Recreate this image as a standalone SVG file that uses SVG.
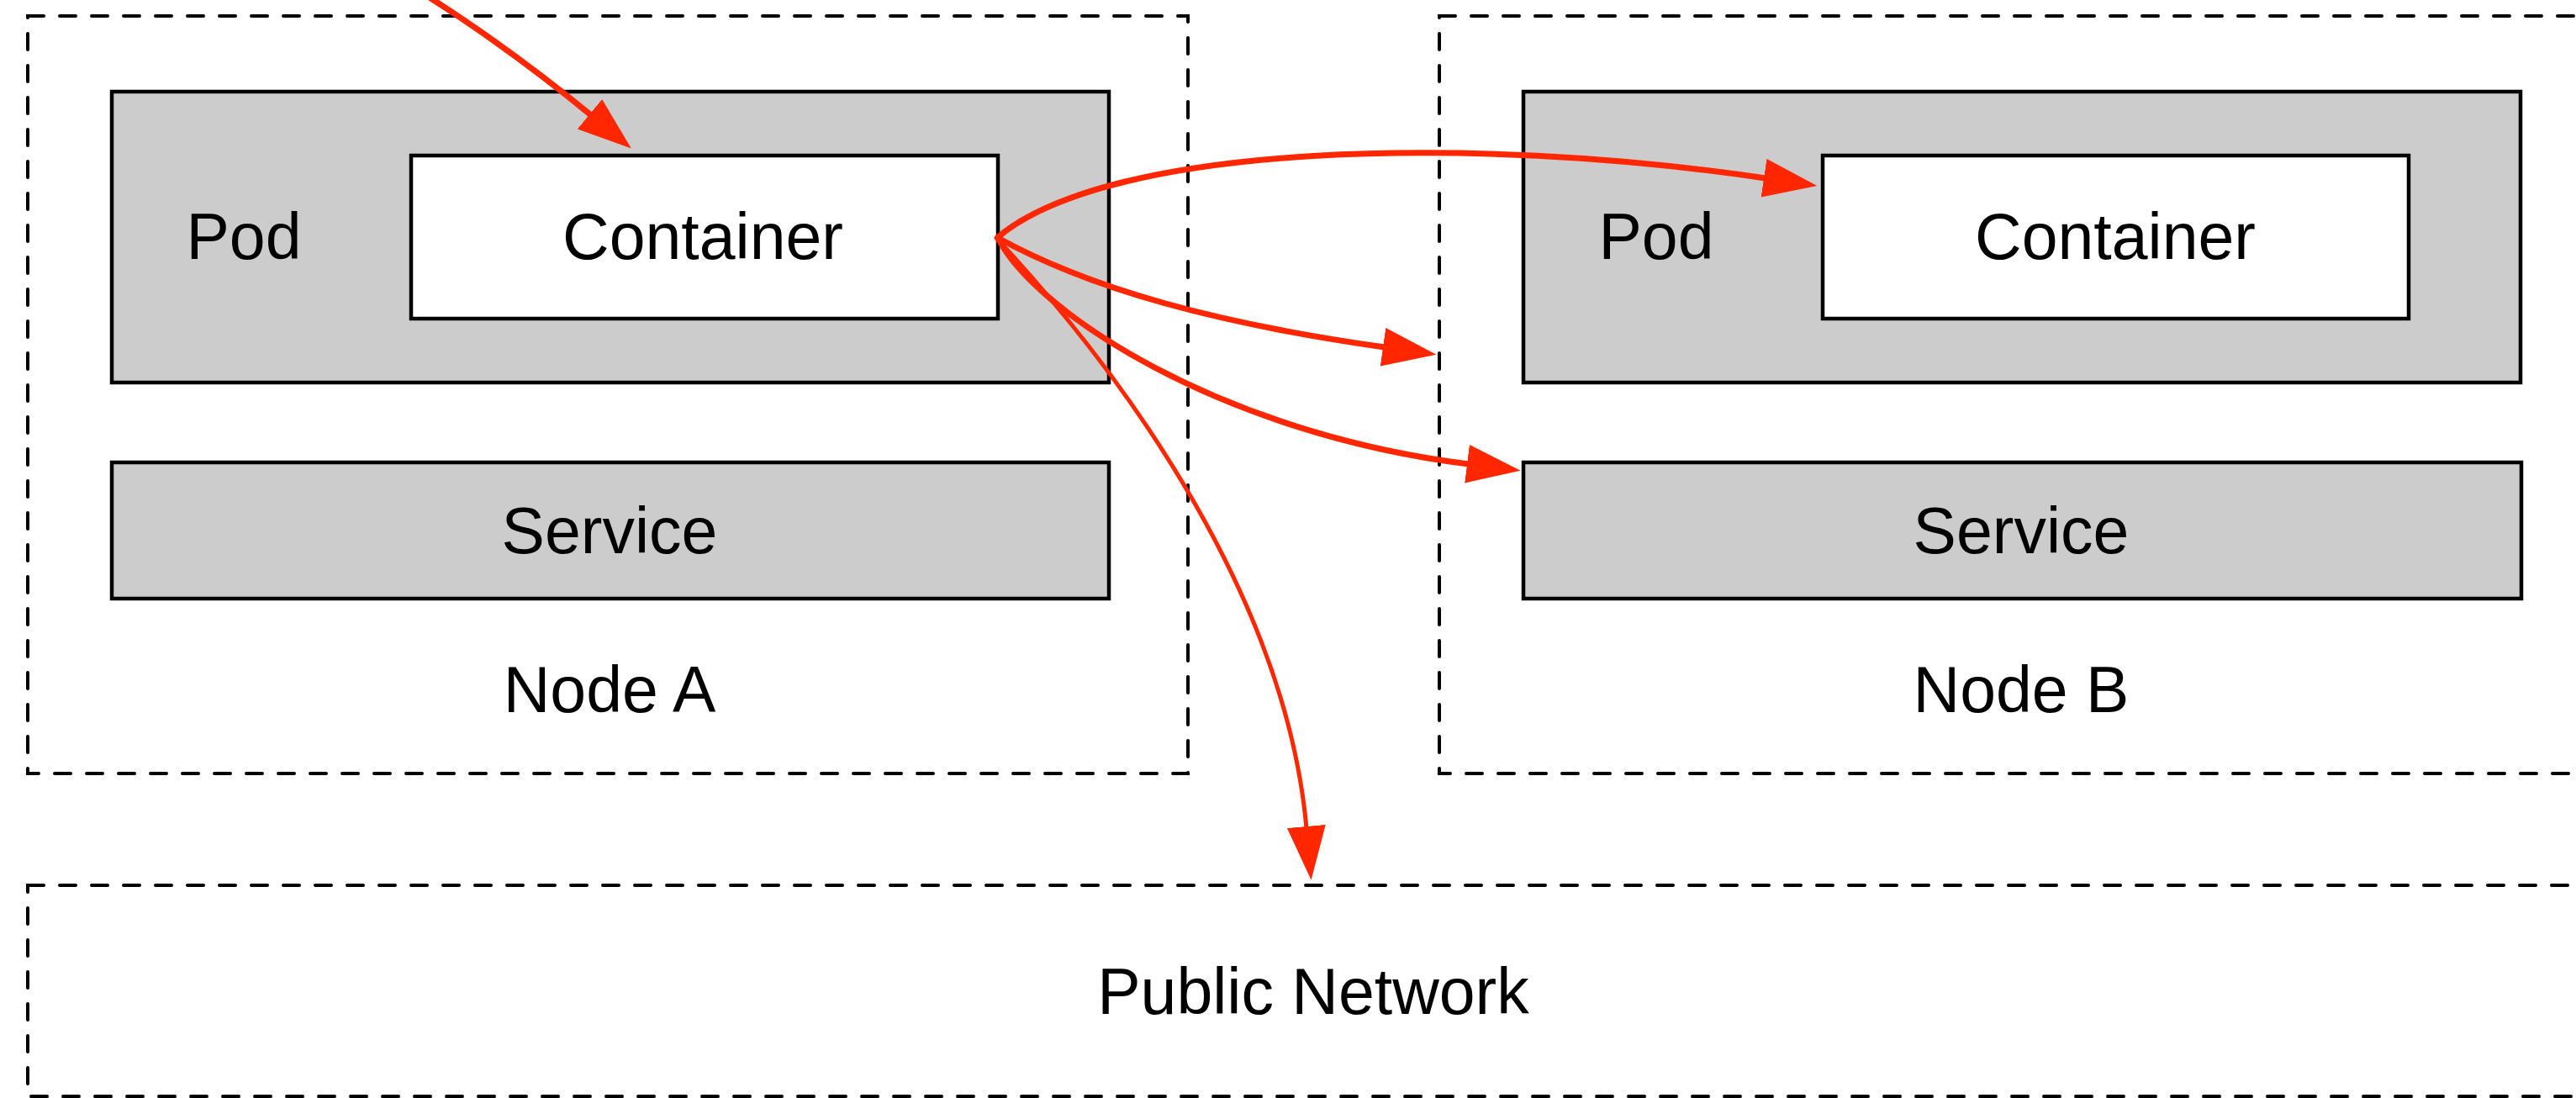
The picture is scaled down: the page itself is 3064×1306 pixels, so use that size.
<svg xmlns="http://www.w3.org/2000/svg" width="3064" height="1306" viewBox="0 0 3064 1306">
  <style>
    .host { fill: none; stroke: #000; stroke-width: 4; stroke-dasharray: 19 19; stroke-linecap: round; }
    .box { fill: #cccccc; stroke: #000; stroke-width: 4.5; }
    .inner { fill: #ffffff; stroke: #000; stroke-width: 4.5; }
    .label { font-family: "Liberation Sans", Arial, Helvetica, sans-serif; font-size: 77px; fill: #000; text-anchor: middle; }
    .flow { fill: none; stroke: #ff2600; stroke-width: 7; stroke-linecap: round; marker-end: url(#head); }
    .flow.thin { stroke-width: 5; }
  </style>
  <defs>
    <marker id="head" markerUnits="userSpaceOnUse" markerWidth="70" markerHeight="50" refX="2" refY="23" orient="auto">
      <path d="M0,0 L64,23 L0,46 Z" fill="#ff2600"/>
    </marker>
  </defs>
  <rect width="3064" height="1306" fill="#ffffff"/>

  <g id="node-a">
    <rect class="host" x="33" y="19" width="1380" height="901"/>
    <text class="label" x="725" y="847">Node A</text>
  </g>
  <g id="pod-a">
    <rect class="box" x="133" y="109" width="1186" height="346"/>
    <text class="label" x="290" y="308">Pod</text>
  </g>
  <g id="container-a">
    <rect class="inner" x="489" y="185" width="698" height="194"/>
    <text class="label" x="836" y="308">Container</text>
  </g>
  <g id="service-a">
    <rect class="box" x="133" y="550" width="1186" height="162"/>
    <text class="label" x="725" y="658">Service</text>
  </g>

  <g id="node-b">
    <rect class="host" x="1712" y="19" width="1380" height="901"/>
    <text class="label" x="2404" y="847">Node B</text>
  </g>
  <g id="pod-b">
    <rect class="box" x="1812" y="109" width="1186" height="346"/>
    <text class="label" x="1970" y="308">Pod</text>
  </g>
  <g id="container-b">
    <rect class="inner" x="2168" y="185" width="697" height="194"/>
    <text class="label" x="2516" y="308">Container</text>
  </g>
  <g id="service-b">
    <rect class="box" x="1812" y="550" width="1187" height="162"/>
    <text class="label" x="2404" y="658">Service</text>
  </g>

  <g id="public-network">
    <rect class="host" x="33" y="1053" width="3059" height="251"/>
    <text class="label" x="1562" y="1206">Public Network</text>
  </g>

  <g id="connectors">
    <path class="flow" d="M440,-45 C540,10 640,85 703,137"/>
    <path class="flow" d="M1187,282 C1320,170 1750,160 2100,212"/>
    <path class="flow" d="M1187,283 C1300,345 1450,385 1647,413"/>
    <path class="flow" d="M1187,283 C1230,370 1450,515 1747,552"/>
    <path class="flow thin" d="M1185,283 C1350,460 1530,720 1554,985"/>
  </g>
</svg>
